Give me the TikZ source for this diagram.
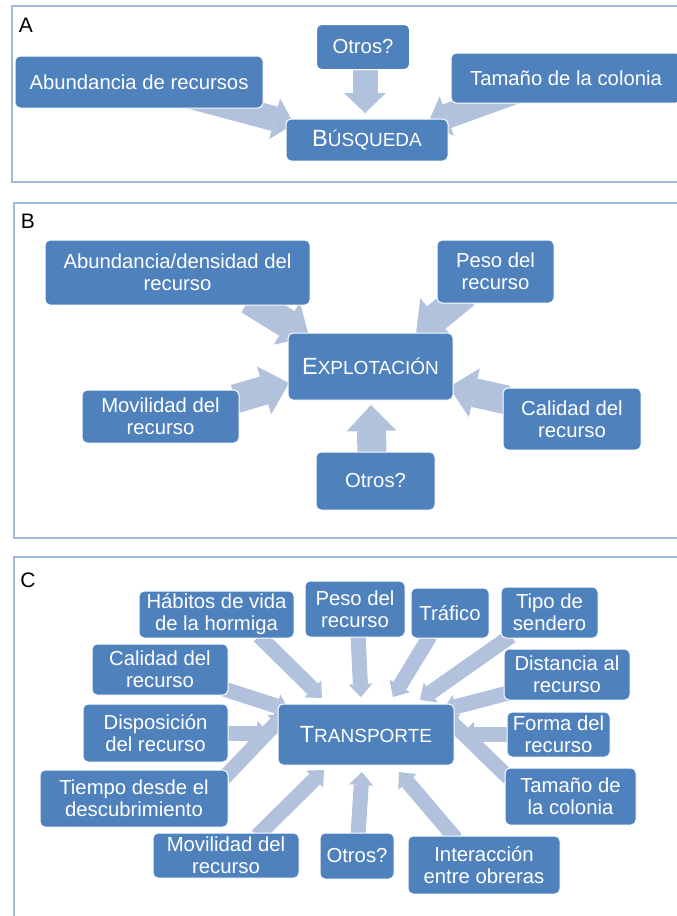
\documentclass[tikz,border=0pt]{standalone}
\usepackage{fontspec}
\setmainfont{Liberation Sans}
\usetikzlibrary{arrows.meta, calc, backgrounds}
\definecolor{boxblue}{RGB}{79,129,189}
\definecolor{arrowblue}{RGB}{178,193,220}
\definecolor{frameblue}{RGB}{160,184,219}
\newcommand{\bigsc}[2]{{\fontsize{23.5}{24}\selectfont #1}{\fontsize{19}{22}\selectfont #2}}

\begin{document}
\begin{tikzpicture}[x=1pt, y=-1pt,
    box/.style={draw=white, line width=1pt, fill=boxblue, rounded corners=5pt, text=white,
                align=center, inner sep=1pt, font=\fontsize{20.3}{22}\selectfont},
    wh/.style 2 args={minimum width=#1pt, minimum height=#2pt},
    panel/.style={draw=frameblue, line width=1.3pt},
    tag/.style={font=\fontsize{21}{21}\selectfont},
    fatA/.style={color=arrowblue, line width=25pt, -{Triangle[length=20pt, width=42pt, line width=0pt]}},
    fatB/.style={color=arrowblue, line width=29pt, -{Triangle[length=26pt, width=50pt, line width=0pt]}},
    fatC/.style={color=arrowblue, line width=15pt, -{Triangle[length=13pt, width=24pt, line width=0pt]}}]
\useasboundingbox (0,0) rectangle (677,916);

% A
\node[tag] (labA) at (26,25) {A};
\node[box, wh={93}{45}] (otrosA) at (363,47) {Otros?};
\node[box, wh={248}{52}] (abundA) at (139,82) {Abundancia de recursos};
\node[box, wh={230}{50}] (tamanoA) at (566,78) {Tamaño de la colonia};
\node[box, wh={162}{42}] (busqA) at (367,140) {\bigsc{B}{ÚSQUEDA}};

% B
\node[tag] (labB) at (28,221) {B};
\node[box, wh={265}{65}] (abundB) at (177.5,272.5) {Abundancia/densidad del\\recurso};
\node[box, wh={117}{63}] (pesoB) at (495.5,271.5) {Peso del\\recurso};
\node[box, wh={165}{67}] (explB) at (370.5,366.5) {\bigsc{E}{XPLOTACIÓN}};
\node[box, wh={157}{53}] (movB) at (160.5,416.5) {Movilidad del\\recurso};
\node[box, wh={138}{62}] (calB) at (572,419) {Calidad del\\recurso};
\node[box, wh={119}{58}] (otrosB) at (375.5,481) {Otros?};

% C
\node[tag] (labC) at (28,580) {C};
\node[box, wh={155}{47}] (habC) at (216.5,614.5) {Hábitos de vida\\de la hormiga};
\node[box, wh={100}{56}] (pesoC) at (355,609) {Peso del\\recurso};
\node[box, wh={78}{50}] (trafC) at (450,613) {Tráfico};
\node[box, wh={97}{51}] (tipoC) at (549.5,612.5) {Tipo de\\sendero};
\node[box, wh={136}{51}] (calC) at (160,669.5) {Calidad del\\recurso};
\node[box, wh={126}{51}] (distC) at (567,674.5) {Distancia al\\recurso};
\node[box, wh={145}{58}] (dispC) at (155.5,733) {Disposición\\del recurso};
\node[box, wh={176}{61}] (trC) at (366,734.5) {\bigsc{T}{RANSPORTE}};
\node[box, wh={103}{45}] (formaC) at (558.5,734.5) {Forma del\\recurso};
\node[box, wh={188}{57}] (tiempoC) at (134,798.5) {Tiempo desde el\\descubrimiento};
\node[box, wh={131}{57}] (tamC) at (570.5,796.5) {Tamaño de\\la colonia};
\node[box, wh={146}{45}] (movC) at (226,855.5) {Movilidad del\\recurso};
\node[box, wh={74}{46}] (otrosC) at (357,856) {Otros?};
\node[box, wh={152}{58}] (interC) at (484,865) {Interacción\\entre obreras};

\begin{pgfonlayer}{background}
  \fill[white] (0,0) rectangle (677,916);
  \draw[panel] (12,6) rectangle (690,182);
  \draw[panel] (14,203) rectangle (690,538);
  \draw[panel] (14,557) rectangle (690,930);
  % arrows A
  \draw[fatA] ($(abundA)+(41,11.5)$) -- ($(busqA)+(-73,-16)$);
  \draw[fatA] ($(otrosA)+(2,18)$) -- ($(busqA)+(-2,-27)$);
  \draw[fatA] ($(tamanoA)+(-41,10)$) -- ($(busqA)+(61,-17)$);
  % arrows B
  \draw[fatB] ($(abundB)+(71.5,27.5)$) -- ($(explB)+(-61.5,-29.5)$);
  \draw[fatB] ($(pesoB)+(-30.5,22.5)$) -- ($(explB)+(45.5,-32.5)$);
  \draw[fatB] ($(movB)+(74.5,-17.5)$) -- ($(explB)+(-81.5,16.5)$);
  \draw[fatB] ($(calB)+(-65,-19)$) -- ($(explB)+(78.5,20.5)$);
  \draw[fatB] ($(otrosB)+(-3.5,-25)$) -- ($(explB)+(0.5,38.5)$);
  % arrows C
  \draw[fatC] ($(habC)+(42.5,21.5)$) -- ($(trC)+(-44,-36.5)$);
  \draw[fatC] ($(pesoC)+(3,25)$) -- ($(trC)+(-5,-37.5)$);
  \draw[fatC] ($(trafC)+(-20,23)$) -- ($(trC)+(27,-37.5)$);
  \draw[fatC] ($(tipoC)+(-38.5,23.5)$) -- ($(trC)+(54,-34.5)$);
  \draw[fatC] ($(calC)+(64,19.5)$) -- ($(trC)+(-77,-24.5)$);
  \draw[fatC] ($(distC)+(-59,18.5)$) -- ($(trC)+(77,-24.5)$);
  \draw[fatC] ($(dispC)+(68.5,0)$) -- ($(trC)+(-96,-1.5)$);
  \draw[fatC] ($(formaC)+(-47.5,-0.5)$) -- ($(trC)+(95,-0.5)$);
  \draw[fatC] ($(tiempoC)+(90,-20.5)$) -- ($(trC)+(-81,-20.5)$);
  \draw[fatC] ($(tamC)+(-61.5,-18.5)$) -- ($(trC)+(77,-20.5)$);
  \draw[fatC] ($(movC)+(31,-19.5)$) -- ($(trC)+(-42,35.5)$);
  \draw[fatC] ($(otrosC)+(1,-20)$) -- ($(trC)+(-4,37.5)$);
  \draw[fatC] ($(interC)+(-28,-26)$) -- ($(trC)+(33,37.5)$);
\end{pgfonlayer}
\end{tikzpicture}
\end{document}
